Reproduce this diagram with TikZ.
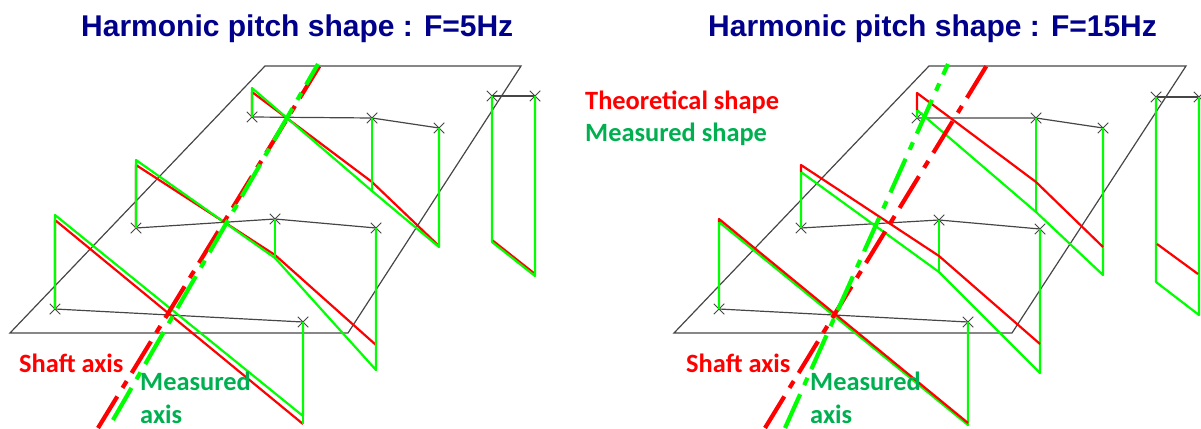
\documentclass[tikz,border=0pt]{standalone}
\usepackage{fontspec}
\setmainfont{Liberation Sans}
\newfontfamily\lblfont{Carlito}
\usetikzlibrary{shapes.misc}
\definecolor{navytitle}{RGB}{0,0,139}
\definecolor{msgreen}{RGB}{0,176,80}
\definecolor{linegreen}{RGB}{0,255,0}
\definecolor{linered}{RGB}{255,0,0}
\definecolor{planegray}{RGB}{70,70,70}
\tikzset{
  plane/.style={draw=planegray,line width=1.2pt,line join=miter},
  pitch/.style={draw=planegray,line width=1.2pt},
  crossmark/.style={cross out,draw=planegray,line width=0.9pt,minimum size=10.5pt,inner sep=0pt,outer sep=0pt},
  redshape/.style={draw=linered,line width=2.2pt,line join=round},
  greenshape/.style={draw=linegreen,line width=2.2pt,line join=round},
  axisline/.style={line width=4.2pt,dash pattern=on 37pt off 10pt on 8pt off 9.5pt},
  titlelbl/.style={font=\fontsize{30}{34}\selectfont\bfseries,text=navytitle,anchor=base west,inner sep=0pt},
  redlbl/.style={font=\lblfont\fontsize{26.4}{30}\selectfont\bfseries,text=linered,anchor=base west,inner sep=0pt},
  greenlbl/.style={font=\lblfont\fontsize{26.4}{30}\selectfont\bfseries,text=msgreen,anchor=base west,inner sep=0pt},
}
\begin{document}
\begin{tikzpicture}[x=1pt,y=-1pt]
\useasboundingbox (0,0) rectangle (1201,428);
% ---- left panel ----
\draw[plane] (265,66) -- (521,66) -- (348,333) -- (10,333) -- cycle;
\node[crossmark] (la1) at (252,117) {};
\node[crossmark] (la2) at (372,118) {};
\node[crossmark] (la3) at (439,128) {};
\node[crossmark] (la4) at (492,96) {};
\node[crossmark] (la5) at (535,96) {};
\node[crossmark] (lb1) at (136,228) {};
\node[crossmark] (lb2) at (275,219) {};
\node[crossmark] (lb3) at (376,228) {};
\node[crossmark] (lc1) at (55,309) {};
\node[crossmark] (lc2) at (303,322) {};
\draw[pitch] (la1.center) -- (la2.center) -- (la3.center);
\draw[pitch] (la4.center) -- (la5.center);
\draw[pitch] (lb1.center) -- (lb2.center) -- (lb3.center);
\draw[pitch] (lc1.center) -- (lc2.center);
% red theoretical
\draw[redshape] (la1.center) -- (252,92) -- (372,182) -- (439,246);
\draw[redshape] (492,240) -- (535,274);
\draw[redshape] (lb1.center) -- (136,165) -- (275,255) -- (376,345);
\draw[redshape] (lc1.center) -- (55,220) -- (303,424);
% green measured
\draw[greenshape] (la1.center) -- (252,88) -- (372,191) -- (439,247) -- (la3.center);
\draw[greenshape] (la2.center) -- (372,191);
\draw[greenshape] (la4.center) -- (492,242) -- (535,276) -- (la5.center);
\draw[greenshape] (lb1.center) -- (136,160) -- (275,258) -- (376,370) -- (lb3.center);
\draw[greenshape] (lb2.center) -- (275,258);
\draw[greenshape] (lc1.center) -- (55,215) -- (303,416) -- (lc2.center);
\draw[greenshape] (303,416) -- (303,424);
% axes
\coordinate (lrb) at (98,428);
\coordinate (lrt) at (320,65);
\coordinate (lgb) at (113,420);
\coordinate (lgt) at (318,64);
\draw[axisline,draw=linered] (lrb) -- (lrt);
\draw[axisline,draw=linegreen] (lgb) -- (lgt);
% ---- right panel ----
\draw[plane] (929,66) -- (1186,66) -- (1012,333) -- (674,333) -- cycle;
\node[crossmark] (ra1) at (917,118) {};
\node[crossmark] (ra2) at (1036,118) {};
\node[crossmark] (ra3) at (1103,128) {};
\node[crossmark] (ra4) at (1156,97) {};
\node[crossmark] (ra5) at (1199,97) {};
\node[crossmark] (rb1) at (801,228) {};
\node[crossmark] (rb2) at (939,220) {};
\node[crossmark] (rb3) at (1040,229) {};
\node[crossmark] (rc1) at (719,309) {};
\node[crossmark] (rc2) at (968,322) {};
\draw[pitch] (ra1.center) -- (ra2.center) -- (ra3.center);
\draw[pitch] (ra4.center) -- (ra5.center);
\draw[pitch] (rb1.center) -- (rb2.center) -- (rb3.center);
\draw[pitch] (rc1.center) -- (rc2.center);
% green measured
\draw[greenshape] (ra1.center) -- (917,110) -- (1036,212) -- (1103,275) -- (ra3.center);
\draw[greenshape] (ra2.center) -- (1036,212);
\draw[greenshape] (ra4.center) -- (1156,282) -- (1199,315) -- (ra5.center);
\draw[greenshape] (rb1.center) -- (801,172) -- (939,272) -- (1040,373) -- (rb3.center);
\draw[greenshape] (rb2.center) -- (939,272);
\draw[greenshape] (rc1.center) -- (719,222) -- (968,425) -- (rc2.center);
% red theoretical
\draw[redshape] (917,110) -- (917,93) -- (1036,182) -- (1103,247);
\draw[redshape] (1157,244) -- (1198,274);
\draw[redshape] (801,172) -- (801,165) -- (939,256) -- (1040,344);
\draw[redshape] (719,222) -- (719,219) -- (968,423);
% axes
\coordinate (rrb) at (765,428);
\coordinate (rrt) at (987,65);
\coordinate (rgb) at (785,428);
\coordinate (rgt) at (948,64);
\draw[axisline,draw=linered] (rrb) -- (rrt);
\draw[axisline,draw=linegreen] (rgb) -- (rgt);
% ---- labels ----
\node[titlelbl] (t1) at (81,37) {Harmonic pitch shape : F=5Hz};
\node[titlelbl] (t2) at (708,37) {Harmonic pitch shape : F=15Hz};
\node[redlbl] (k1) at (585,109) {Theoretical shape};
\node[greenlbl] (k2) at (585,141) {Measured shape};
\node[redlbl] (s1) at (19,372) {Shaft axis};
\node[greenlbl] (m1) at (140,390) {Measured};
\node[greenlbl] (a1) at (140,423) {axis};
\node[redlbl] (s2) at (686,372) {Shaft axis};
\node[greenlbl] (m2) at (810,390) {Measured};
\node[greenlbl] (a2) at (810,423) {axis};
\end{tikzpicture}
\end{document}
